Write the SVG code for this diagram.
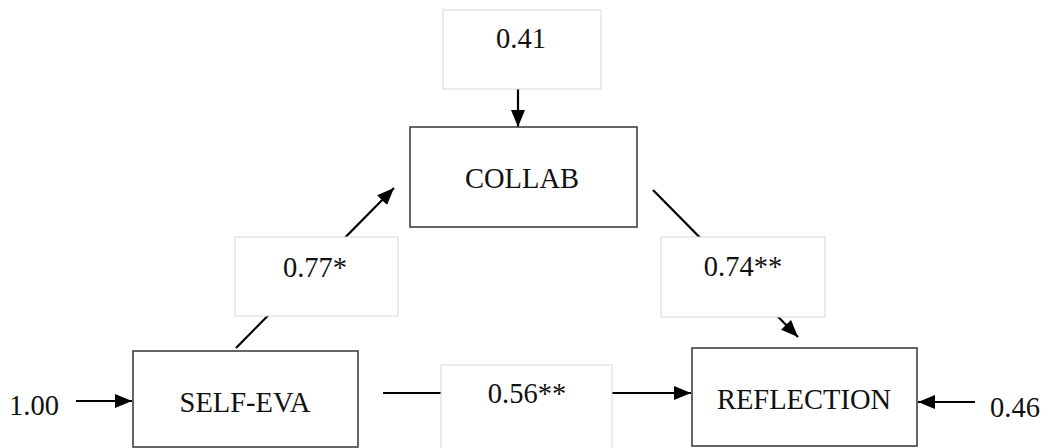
<svg xmlns="http://www.w3.org/2000/svg" width="1048" height="448" viewBox="0 0 1048 448">
<style>
  .node rect { fill: #ffffff; stroke: #404040; stroke-width: 1.6; }
  .lbl rect { fill: #ffffff; stroke: #d8d8d8; stroke-width: 1; }
  text { font-family: "Liberation Serif", "Times New Roman", serif; font-size: 28.5px; fill: #111111; text-anchor: middle; }
  .conn line { stroke: #000000; stroke-width: 2.2; marker-end: url(#arr); }
</style>
<defs>
  <marker id="arr" markerUnits="userSpaceOnUse" markerWidth="17" markerHeight="15" refX="17" refY="7" orient="auto">
    <path d="M0,0 L17,7 L0,14 z" fill="#000000"/>
  </marker>
</defs>
<rect width="1048" height="448" fill="#ffffff"/>
<g id="connectors" class="conn">
  <line x1="518" y1="89" x2="518" y2="127"/>
  <line x1="236" y1="348" x2="394" y2="188"/>
  <line x1="653" y1="190" x2="798" y2="337"/>
  <line x1="383" y1="393" x2="691" y2="393"/>
  <line x1="76" y1="401" x2="132" y2="401"/>
  <line x1="975" y1="402" x2="918" y2="402"/>
</g>
<g id="label-041" class="lbl">
  <rect x="443" y="10" width="158" height="79"/>
  <text x="521" y="48">0.41</text>
</g>
<g id="label-077" class="lbl">
  <rect x="235" y="237" width="163" height="79"/>
  <text x="315" y="277">0.77*</text>
</g>
<g id="label-074" class="lbl">
  <rect x="661" y="237" width="164" height="80"/>
  <text x="743" y="276">0.74**</text>
</g>
<g id="label-056" class="lbl">
  <rect x="441" y="365" width="171" height="90"/>
  <text x="527" y="403">0.56**</text>
</g>
<g id="collab" class="node">
  <rect x="410" y="127" width="227" height="100"/>
  <text x="522" y="188">COLLAB</text>
</g>
<g id="self-eva" class="node">
  <rect x="133" y="351" width="225" height="96"/>
  <text x="245" y="412">SELF-EVA</text>
</g>
<g id="reflection" class="node">
  <rect x="692" y="348" width="225" height="98"/>
  <text x="804" y="409">REFLECTION</text>
</g>
<g id="err-self">
  <text x="34" y="415">1.00</text>
</g>
<g id="err-refl">
  <text x="1015" y="417">0.46</text>
</g>
</svg>
